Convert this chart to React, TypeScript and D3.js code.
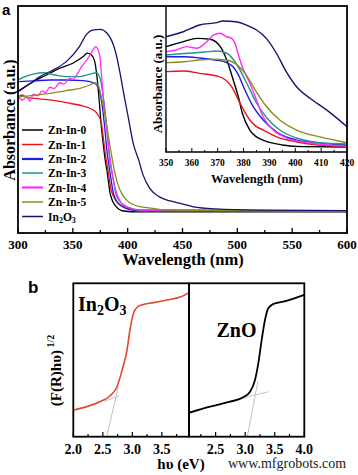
import React from 'react';
import * as d3 from 'd3';

// ---------- tick labels ----------
const mainTicks = [300, 350, 400, 450, 500, 550, 600];
const mainMinor = [325, 375, 425, 475, 525, 575];
const insetTicks = [350, 360, 370, 380, 390, 400, 410, 420];
const insetMinor = [355, 365, 375, 385, 395, 405, 415];
const bLeftTicks = [2.0, 2.5, 3.0, 3.5];
const bLeftMinor = [2.25, 2.75, 3.25, 3.75];
const bRightTicks = [2.5, 3.0, 3.5, 4.0];
const bRightMinor = [2.25, 2.75, 3.25, 3.75];

const seriesNames = ['Zn-In-0', 'Zn-In-1', 'Zn-In-2', 'Zn-In-3', 'Zn-In-4', 'Zn-In-5', 'In2O3'];
const seriesColors = ['#000000', '#e8141c', '#1c1ce6', '#1f968c', '#ff2cff', '#8c8c1e', '#14146e'];

// ---------- panel a, main plot: [wavelength nm, absorbance a.u.] ----------
const zn0Main: [number, number][] = [[300, 62.4], [314, 66.7], [326, 69.6], [338, 72.6], [350, 74.8], [359.5, 77.7], [363, 79.2], [367, 78.4], [370, 75.5], [372, 68.9], [374, 58.6], [376, 46.8], [377.8, 38.8], [379.5, 32.2], [381, 27.8], [384, 17.6], [388.4, 12.3], [396, 9.7], [410, 9.3], [600, 9.3]];
const zn1Main: [number, number][] = [[300, 60.0], [304, 60.8], [308, 59.6], [315, 59.3], [329, 58.6], [344, 57.4], [359.5, 55.9], [368.6, 54.2], [373, 52.0], [376, 48.5], [378, 41.0], [380, 33.6], [382, 27.8], [385, 18.9], [390, 13.8], [399, 11.0], [411, 9.7], [600, 9.5]];
const zn2Main: [number, number][] = [[300, 66.7], [314, 67.0], [329, 67.4], [344, 67.4], [359.5, 67.1], [368.6, 66.2], [373, 64.4], [376, 58.6], [379, 46.8], [381, 36.6], [384, 26.4], [387, 17.6], [393, 12.3], [405, 10.1], [600, 9.7]];
const zn3Main: [number, number][] = [[300, 67.4], [307, 69.0], [314, 70.0], [323, 70.6], [334, 69.6], [344, 68.9], [356.5, 68.9], [365.6, 70.0], [371.7, 70.6], [374.7, 68.3], [377.8, 60.0], [380.8, 46.8], [383, 35.2], [387, 23.3], [390, 16.0], [399, 11.6], [411, 10.1], [600, 9.7]];
const zn4Main: [number, number][] = [[300, 60.0], [304, 58.6], [308, 59.9], [311, 58.1], [314, 61.2], [318, 60.4], [322, 62.6], [325, 61.8], [329, 64.2], [333, 63.6], [338, 66.2], [342, 65.6], [347, 68.1], [350, 67.7], [353.5, 69.6], [358, 73.3], [362.6, 76.2], [365.6, 78.4], [368.6, 80.9], [371, 82.1], [373, 80.6], [374.7, 77.7], [376, 70.5], [378, 58.6], [380.8, 46.8], [383, 36.6], [387, 23.3], [391.6, 15.4], [399, 11.5], [411, 10.1], [600, 9.9]];
const zn5Main: [number, number][] = [[300, 60.0], [310, 60.4], [329, 61.5], [344, 62.7], [356.5, 63.7], [365.6, 65.2], [370, 66.2], [373, 65.2], [376, 60.0], [379, 52.9], [382, 44.1], [385, 35.2], [388.4, 26.4], [393, 18.9], [399, 14.5], [411, 11.6], [421, 11.0], [435, 10.1], [600, 9.7]];
const in2o3Main: [number, number][] = [[300, 62.2], [310, 65.5], [320, 68.9], [332, 71.8], [344, 75.5], [356, 82.1], [362, 87.2], [368, 89.4], [375, 89.7], [381, 88.1], [387, 82.8], [390, 77.7], [393, 70.5], [397.5, 58.6], [400.5, 51.1], [405, 39.6], [410, 32.2], [414, 25.6], [420, 19.8], [429, 15.9], [439, 14.1], [448, 13.0], [460, 11.5], [480, 10.6], [520, 10.1], [600, 9.9]];

// ---------- panel a, inset ----------
const zn0Inset: [number, number][] = [[350, 74.1], [356.7, 77.3], [362, 79.4], [367, 78.8], [371, 74.1], [373.5, 65.6], [376, 52.9], [378, 42.0], [379.5, 31.8], [382.4, 21.0], [385, 16.6], [388, 14.3], [395, 11.5], [403, 10.4], [420, 10.2]];
const zn1Inset: [number, number][] = [[350, 58.2], [356.7, 58.6], [363, 57.1], [369.6, 55.4], [373, 52.9], [375.5, 48.4], [378, 40.1], [380, 33.8], [382.4, 27.4], [385, 23.2], [387.6, 21.0], [392.8, 16.6], [400.5, 13.4], [409, 11.5], [420, 10.8]];
const zn2Inset: [number, number][] = [[350, 67.7], [357, 67.7], [363, 66.9], [369, 65.6], [373, 64.3], [376, 61.1], [378, 56.1], [380, 48.4], [383.8, 35.7], [387.6, 27.4], [392.8, 19.7], [400.5, 14.6], [409.5, 12.7], [420, 11.5]];
const zn3Inset: [number, number][] = [[350, 68.8], [357, 69.7], [365, 70.7], [369.6, 71.3], [373.5, 69.9], [377, 63.7], [381, 51.6], [385, 38.2], [389, 28.7], [394, 21.0], [400.5, 15.9], [409.5, 12.9], [420, 12.1]];
const zn4Inset: [number, number][] = [[350, 70.9], [354, 72.0], [358, 74.1], [362, 73.1], [364.4, 75.2], [366.4, 78.3], [368.3, 81.5], [370.9, 82.6], [373.5, 80.4], [375.4, 79.4], [376.7, 76.2], [378, 68.8], [380, 59.2], [382.4, 51.0], [385, 40.1], [387.6, 29.3], [391.5, 21.0], [396.7, 15.9], [405.7, 12.7], [420, 10.8]];
const zn5Inset: [number, number][] = [[350, 63.9], [357, 64.5], [363, 65.6], [368, 66.1], [373.5, 65.6], [377, 63.1], [381, 56.1], [385, 45.2], [389, 35.7], [394, 27.4], [400.5, 21.0], [409.5, 16.6], [420, 12.9]];
const in2o3Inset: [number, number][] = [[350, 80.4], [356.7, 83.6], [363, 87.9], [369.6, 89.4], [372, 90.4], [377, 90.0], [382.5, 86.8], [385, 84.7], [388.8, 79.4], [392.7, 69.9], [396.5, 58.2], [400.5, 48.6], [405.7, 41.2], [412.1, 33.8], [420, 23.1]];

// ---------- panel b: [hv eV, (F(R)hv)^1/2] ----------
const in2o3Tauc: [number, number][] = [[2.0, 17.4], [2.23, 19.6], [2.45, 22.8], [2.62, 26.5], [2.74, 32.6], [2.82, 42.4], [2.91, 56.5], [2.96, 69.6], [3.02, 80.4], [3.08, 84.4], [3.16, 85.9], [3.36, 87.4], [3.59, 89.1], [3.81, 91.0], [3.96, 93.9]];
const in2o3Steep: [number, number][] = [[2.566, 0], [2.763, 32.6]];
const in2o3Base: [number, number][] = [[2.52, 23.0], [2.78, 26.6]];
const znoTauc: [number, number][] = [[2.05, 15.6], [2.405, 19.6], [2.743, 22.8], [2.968, 25.7], [3.082, 29.3], [3.166, 37.0], [3.222, 47.8], [3.279, 63.0], [3.335, 76.1], [3.391, 83.7], [3.476, 86.5], [3.645, 88.0], [4.0, 92.4]];
const znoSteep: [number, number][] = [[3.036, 0], [3.215, 36.0]];
const znoBase: [number, number][] = [[2.941, 25.0], [3.391, 29.3]];

const mainSeries = [zn0Main, zn1Main, zn2Main, zn3Main, zn4Main, zn5Main, in2o3Main];
const insetSeries = [zn0Inset, zn1Inset, zn2Inset, zn3Inset, zn4Inset, zn5Inset, in2o3Inset];

const SERIF = '"Liberation Serif", "Times New Roman", serif';
const SANS = '"Liberation Sans", Arial, sans-serif';

export default function App() {
  const mx = d3.scaleLinear().domain([300, 600]).range([18, 347]);
  const my = d3.scaleLinear().domain([0, 100]).range([233, 6]);
  const ix = d3.scaleLinear().domain([350, 420]).range([166, 347]);
  const iy = d3.scaleLinear().domain([7, 100]).range([152, 6]);
  const blx = d3.scaleLinear().domain([2.0, 3.96]).range([73.3, 189]);
  const brx = d3.scaleLinear().domain([2.05, 4.0]).range([189, 304.3]);
  const by = d3.scaleLinear().domain([0, 100]).range([436.7, 283.3]);

  const lineMain = d3.line<[number, number]>().x(d => mx(d[0])).y(d => my(d[1])).curve(d3.curveMonotoneX);
  const lineInset = d3.line<[number, number]>().x(d => ix(d[0])).y(d => iy(d[1])).curve(d3.curveMonotoneX);
  const lineBL = d3.line<[number, number]>().x(d => blx(d[0])).y(d => by(d[1])).curve(d3.curveMonotoneX);
  const lineBR = d3.line<[number, number]>().x(d => brx(d[0])).y(d => by(d[1])).curve(d3.curveMonotoneX);

  const legendY = [130, 144.5, 159, 173, 187.5, 202, 216.5];

  const renderName = (n: string, size: number) =>
    n === 'In2O3' ? (
      <>
        In<tspan fontSize={size * 0.7} dy={2}>2</tspan>
        <tspan dy={-2}>O</tspan>
        <tspan fontSize={size * 0.7} dy={2}>3</tspan>
      </>
    ) : n;

  return (
    <svg width={358} height={475} style={{ position: 'absolute', left: 0, top: 0, background: '#fff' }}>
      <defs>
        <clipPath id="clipMain"><rect x={18} y={6} width={329} height={227} /></clipPath>
        <clipPath id="clipInset"><rect x={166} y={6} width={181} height={146} /></clipPath>
        <clipPath id="clipBL"><rect x={73.3} y={283.3} width={115.7} height={153.4} /></clipPath>
        <clipPath id="clipBR"><rect x={189} y={283.3} width={115.3} height={153.4} /></clipPath>
      </defs>

      {/* ---------- panel a ---------- */}
      <text x={2} y={14.5} fontFamily={SANS} fontWeight="bold" fontSize={15}>a</text>

      <g clipPath="url(#clipMain)">
        {mainSeries.map((s, i) => (
          <path key={i} d={lineMain(s) || ''} fill="none" stroke={seriesColors[i]} strokeWidth={1.3} />
        ))}
      </g>

      {/* main ticks */}
      {mainTicks.map(t => (
        <line key={'mt' + t} x1={mx(t)} x2={mx(t)} y1={233} y2={228} stroke="#000" strokeWidth={1.3} />
      ))}
      {mainMinor.map(t => (
        <line key={'mm' + t} x1={mx(t)} x2={mx(t)} y1={233} y2={230} stroke="#000" strokeWidth={1.3} />
      ))}
      {mainTicks.map(t => (
        <text key={'ml' + t} x={mx(t)} y={248.5} textAnchor="middle" fontFamily={SERIF} fontWeight="bold" fontSize={13}>{t}</text>
      ))}
      <text x={183} y={265} textAnchor="middle" fontFamily={SERIF} fontWeight="bold" fontSize={16.5}>Wavelength (nm)</text>
      <text transform="translate(14.5,120) rotate(-90)" textAnchor="middle" fontFamily={SERIF} fontWeight="bold" fontSize={16}>Absorbance (a.u.)</text>

      {/* legend */}
      {seriesNames.map((n, i) => (
        <g key={'lg' + n}>
          <line x1={22} x2={43} y1={legendY[i]} y2={legendY[i]} stroke={seriesColors[i]} strokeWidth={i === 2 || i === 4 ? 2.2 : 1.5} />
          <text x={48} y={legendY[i] + 4} fontFamily={SERIF} fontWeight="bold" fontSize={11.5}>{renderName(n, 11.5)}</text>
        </g>
      ))}

      {/* inset */}
      <rect x={166} y={6} width={181} height={146} fill="#fff" />
      <g clipPath="url(#clipInset)">
        {insetSeries.map((s, i) => (
          <path key={i} d={lineInset(s) || ''} fill="none" stroke={seriesColors[i]} strokeWidth={1.4} />
        ))}
      </g>
      {insetTicks.map(t => (
        <line key={'it' + t} x1={ix(t)} x2={ix(t)} y1={152} y2={148} stroke="#000" strokeWidth={1} />
      ))}
      {insetMinor.map(t => (
        <line key={'im' + t} x1={ix(t)} x2={ix(t)} y1={152} y2={150} stroke="#000" strokeWidth={1} />
      ))}
      {insetTicks.map(t => (
        <text key={'il' + t} x={ix(t)} y={165.5} textAnchor="middle" fontFamily={SERIF} fontWeight="bold" fontSize={9.5}>{t}</text>
      ))}
      <text x={257} y={182.5} textAnchor="middle" fontFamily={SERIF} fontWeight="bold" fontSize={12.5}>Wavelength (nm)</text>
      <text transform="translate(162,84) rotate(-90)" textAnchor="middle" fontFamily={SERIF} fontWeight="bold" fontSize={13}>Absorbance (a.u.)</text>
      <polyline points="166,6 166,152 347,152" fill="none" stroke="#000" strokeWidth={1.4} />

      {/* main frame */}
      <rect x={18} y={6} width={329} height={227} fill="none" stroke="#000" strokeWidth={1.8} />

      {/* ---------- panel b ---------- */}
      <text x={28} y={293.3} fontFamily={SANS} fontWeight="bold" fontSize={17}>b</text>

      <g clipPath="url(#clipBL)">
        <path d={lineBL(in2o3Steep) || ''} fill="none" stroke="#b4b4b4" strokeWidth={0.8} />
        <path d={lineBL(in2o3Base) || ''} fill="none" stroke="#b4b4b4" strokeWidth={0.8} />
        <path d={lineBL(in2o3Tauc) || ''} fill="none" stroke="#e2462c" strokeWidth={1.6} />
      </g>
      <g clipPath="url(#clipBR)">
        <path d={lineBR(znoSteep) || ''} fill="none" stroke="#b4b4b4" strokeWidth={0.8} />
        <path d={lineBR(znoBase) || ''} fill="none" stroke="#b4b4b4" strokeWidth={0.8} />
        <path d={lineBR(znoTauc) || ''} fill="none" stroke="#000" strokeWidth={1.8} />
      </g>

      {bLeftTicks.map(t => (
        <line key={'blt' + t} x1={blx(t)} x2={blx(t)} y1={436.7} y2={432} stroke="#000" strokeWidth={1.2} />
      ))}
      {bLeftMinor.map(t => (
        <line key={'blm' + t} x1={blx(t)} x2={blx(t)} y1={436.7} y2={434} stroke="#000" strokeWidth={1.2} />
      ))}
      {bRightTicks.map(t => (
        <line key={'brt' + t} x1={brx(t)} x2={brx(t)} y1={436.7} y2={432} stroke="#000" strokeWidth={1.2} />
      ))}
      {bRightMinor.map(t => (
        <line key={'brm' + t} x1={brx(t)} x2={brx(t)} y1={436.7} y2={434} stroke="#000" strokeWidth={1.2} />
      ))}
      {bLeftTicks.map(t => (
        <text key={'bll' + t} x={blx(t)} y={454} textAnchor="middle" fontFamily={SERIF} fontWeight="bold" fontSize={14}>{t.toFixed(1)}</text>
      ))}
      {bRightTicks.map(t => (
        <text key={'brl' + t} x={brx(t)} y={454} textAnchor="middle" fontFamily={SERIF} fontWeight="bold" fontSize={14}>{t.toFixed(1)}</text>
      ))}

      <rect x={73.3} y={283.3} width={115.7} height={153.4} fill="none" stroke="#000" strokeWidth={1.8} />
      <rect x={189} y={283.3} width={115.3} height={153.4} fill="none" stroke="#000" strokeWidth={1.8} />

      <text x={78} y={311} fontFamily={SERIF} fontWeight="bold" fontSize={20}>
        In<tspan fontSize={14} dy={4}>2</tspan><tspan dy={-4}>O</tspan><tspan fontSize={14} dy={4}>3</tspan>
      </text>
      <text x={216.5} y={337} fontFamily={SERIF} fontWeight="bold" fontSize={20}>ZnO</text>

      <text transform="translate(61,370.5) rotate(-90)" textAnchor="middle" fontFamily={SERIF} fontWeight="bold" fontSize={15}>
        (F(R)hυ)<tspan fontSize={10} dy={-7}> 1/2</tspan>
      </text>
      <text x={181} y={469} textAnchor="middle" fontFamily={SERIF} fontWeight="bold" fontSize={15}>hυ (eV)</text>
      <text x={228} y={468} fontFamily={SERIF} fontSize={14} fill="#222">www.mfgrobots.com</text>
    </svg>
  );
}
